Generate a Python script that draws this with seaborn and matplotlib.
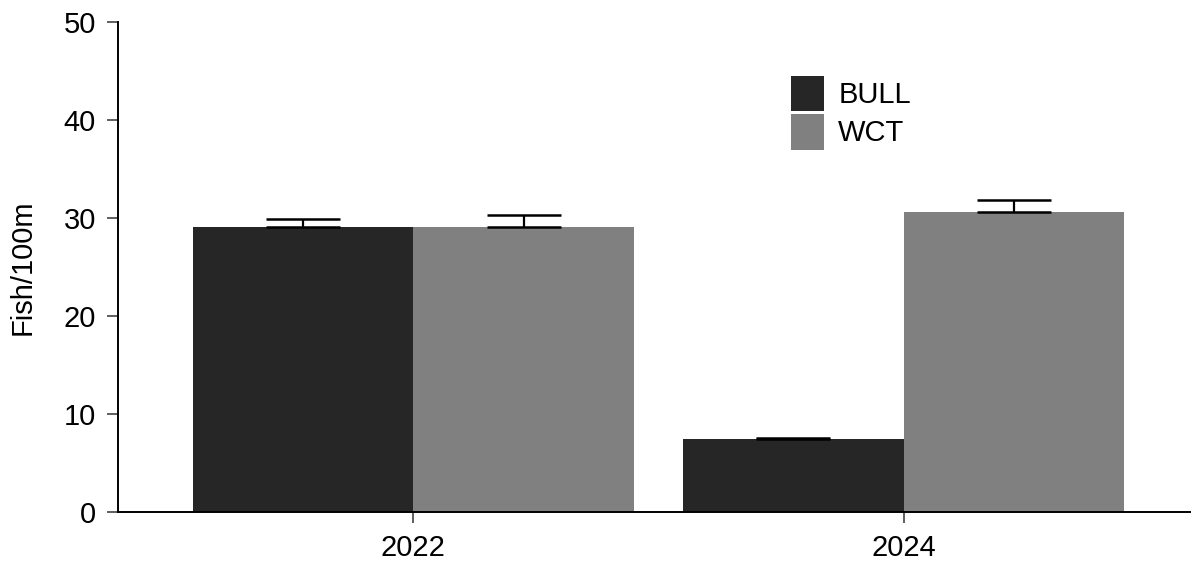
import matplotlib
matplotlib.use("Agg")
import matplotlib.pyplot as plt
import seaborn as sns
import pandas as pd
import numpy as np

years = ["2022", "2024"]
species = ["BULL", "WCT"]
bull_means = [29.1, 7.45]
wct_means = [29.1, 30.6]
bull_err = [0.8, 0.1]
wct_err = [1.2, 1.2]
colors = ["#262626", "#808080"]

df = pd.DataFrame({
    "Year": years * 2,
    "Species": [species[0]] * 2 + [species[1]] * 2,
    "Value": bull_means + wct_means,
})

sns.set_theme(style="ticks")
plt.rcParams["font.family"] = ["Liberation Sans", "DejaVu Sans"]
plt.rcParams["text.color"] = "black"
plt.rcParams["axes.labelcolor"] = "black"
plt.rcParams["xtick.labelcolor"] = "black"
plt.rcParams["ytick.labelcolor"] = "black"

FS = 21
fig = plt.figure(figsize=(11.91, 5.62), dpi=100)
ax = fig.add_axes([0.0991, 0.089, 0.9, 0.872])

sns.barplot(data=df, x="Year", y="Value", hue="Species", order=years,
            hue_order=species, palette=colors, width=0.9, errorbar=None,
            saturation=1, ax=ax, linewidth=0)

errs = {species[0]: bull_err, species[1]: wct_err}
means = {species[0]: bull_means, species[1]: wct_means}
for container, sp in zip(ax.containers, species):
    xs = [p.get_x() + p.get_width() / 2 for p in container.patches]
    ax.errorbar(xs, means[sp], yerr=[np.zeros(len(xs)), errs[sp]],
                fmt="none", ecolor="black", elinewidth=1.6, capthick=1.8,
                capsize=26.5)

ax.set_ylim(0, 50)
ax.set_yticks([0, 10, 20, 30, 40, 50])
ax.set_xlim(-0.602, 1.584)
ax.set_xlabel("")
ax.set_ylabel("Fish/100m", fontsize=FS, labelpad=19)
ax.tick_params(axis="both", labelsize=FS, length=8, width=1.2, color="#444444",
               labelcolor="black", direction="out", pad=8)
for s in ["top", "right"]:
    ax.spines[s].set_visible(False)
for s in ["left", "bottom"]:
    ax.spines[s].set_color("black")
    ax.spines[s].set_linewidth(1.4)

leg = ax.legend(loc="upper left", bbox_to_anchor=(0.6275, 0.89), frameon=False,
                fontsize=FS, handlelength=1.13, handleheight=1.49,
                labelspacing=0.1, handletextpad=0.5, borderaxespad=0,
                borderpad=0)
for t in leg.get_texts():
    t.set_color("black")

fig.savefig("out.png", dpi=100)
